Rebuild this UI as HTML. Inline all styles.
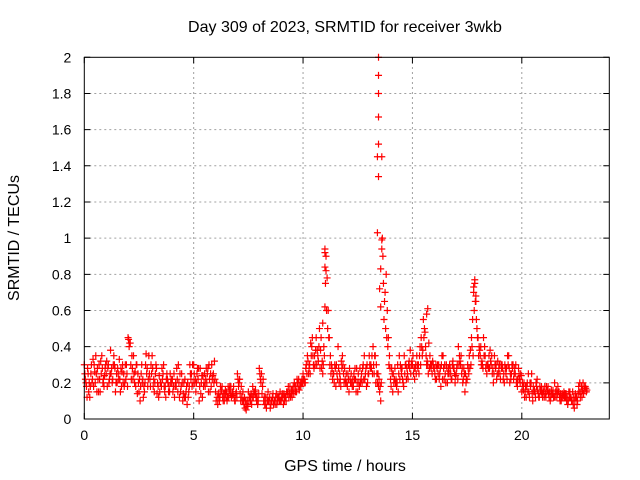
<!DOCTYPE html>
<html><head><meta charset="utf-8"><style>
body{margin:0;background:#fff}
svg{display:block;font-family:"Liberation Sans",sans-serif}
</style></head><body>
<svg id="chart" width="640" height="480">
<text x="345" y="32" text-anchor="middle" font-size="16">Day 309 of 2023, SRMTID for receiver 3wkb</text>
<text x="345" y="471" text-anchor="middle" font-size="16">GPS time / hours</text>
<text transform="translate(19,238) rotate(-90)" text-anchor="middle" font-size="16">SRMTID / TECUs</text>
<g id="grid"></g>
<g id="ticks"></g>
<g id="marks"></g>
<rect x="84.3" y="57.3" width="525" height="361.7" fill="none" stroke="#000" stroke-width="1"/>
</svg>
<script>
const xTicks=[0,5,10,15,20];
const yTicks=[0,0.2,0.4,0.6,0.8,1,1.2,1.4,1.6,1.8,2];
const yTickLabels=["0","0.2","0.4","0.6","0.8","1","1.2","1.4","1.6","1.8","2"];
const vals=[.30,.18,.15,.25,.33,.20,.28,.22,.35,.18,
.25,.30,.38,.22,.28,.20,.33,.18,.25,.22,
.45,.42,.28,.20,.30,.15,.25,.12,.30,.18,
.22,.35,.15,.28,.12,.20,.25,.18,.22,.15,
.20,.25,.18,.30,.15,.10,.22,.08,.18,.25,
.30,.15,.22,.28,.12,.25,.20,.30,.18,.25,
.15,.08,.12,.18,.10,.15,.12,.18,.14,.10,
.25,.22,.12,.08,.05,.15,.10,.18,.14,.12,
.28,.25,.10,.08,.15,.06,.12,.10,.08,.12,
.10,.08,.12,.15,.18,.12,.20,.15,.22,.18,
.25,.20,.35,.30,.40,.28,.45,.32,.38,.25,
.92,.78,.45,.30,.25,.18,.40,.22,.35,.28,
.20,.15,.25,.18,.22,.15,.28,.20,.35,.18,
.25,.30,.40,.35,.20,.15,1.45,.55,.80,.45,
.22,.15,.28,.20,.35,.25,.18,.30,.22,.38,
.30,.22,.35,.25,.45,.55,.40,.30,.35,.25,
.28,.22,.30,.18,.35,.25,.20,.30,.22,.28,
.25,.40,.30,.20,.15,.22,.35,.45,.70,.65,
.45,.35,.30,.40,.25,.35,.30,.20,.28,.32,
.25,.30,.20,.28,.35,.22,.30,.25,.18,.22,
.15,.20,.12,.25,.18,.10,.15,.22,.12,.18,
.15,.12,.18,.10,.14,.20,.12,.15,.10,.13,
.12,.08,.15,.10,.06,.12,.18,.15,.20,.18];
const vals2=[.22,.28,.12,.20,.30,.25,.15,.32,.20,.28,
.18,.22,.28,.35,.20,.25,.15,.30,.20,.25,
.40,.22,.35,.18,.25,.10,.20,.15,.25,.35,
.30,.18,.25,.20,.15,.28,.18,.22,.15,.20,
.15,.18,.22,.12,.25,.20,.15,.12,.25,.30,
.20,.25,.10,.20,.18,.22,.28,.15,.22,.32,
.20,.12,.15,.10,.16,.12,.18,.13,.12,.15,
.18,.10,.15,.06,.10,.12,.08,.15,.12,.10,
.22,.18,.08,.12,.10,.10,.08,.12,.10,.15,
.14,.10,.15,.12,.14,.18,.15,.20,.18,.22,
.20,.30,.25,.42,.35,.30,.38,.50,.28,.40,
.82,.60,.35,.22,.30,.25,.20,.32,.25,.20,
.25,.22,.18,.22,.28,.20,.22,.30,.25,.20,
.30,.35,.25,.30,.18,.10,.90,.70,.60,.35,
.28,.20,.22,.15,.30,.22,.25,.28,.32,.30,
.25,.30,.28,.40,.35,.50,.30,.42,.28,.30,
.22,.30,.25,.35,.22,.30,.28,.25,.32,.20,
.30,.35,.25,.28,.20,.28,.38,.55,.75,.50,
.40,.30,.45,.28,.30,.38,.25,.35,.22,.28,
.30,.22,.28,.35,.20,.30,.25,.20,.28,.25,
.18,.15,.20,.12,.25,.15,.20,.14,.16,.12,
.18,.15,.12,.16,.12,.15,.18,.10,.14,.12,
.10,.15,.12,.08,.14,.10,.20,.12,.16,.15];
const vals3=[.25,.12,.20,.30,.18,.35,.22,.15,.28,.24,
.32,.20,.25,.30,.15,.28,.22,.26,.18,.30,
.44,.30,.22,.26,.14,.22,.30,.18,.36,.22,
.18,.28,.20,.14,.24,.18,.30,.12,.20,.25,
.22,.12,.28,.20,.18,.14,.12,.20,.30,.18,
.25,.20,.28,.14,.24,.18,.25,.22,.30,.20,
.10,.14,.18,.12,.14,.10,.16,.12,.18,.14,
.22,.14,.10,.12,.08,.10,.14,.12,.16,.08,
.25,.14,.12,.06,.10,.08,.14,.08,.12,.10,
.12,.14,.10,.18,.12,.16,.18,.22,.16,.20,
.22,.28,.32,.25,.45,.35,.30,.40,.45,.30,
.75,.50,.30,.28,.20,.30,.28,.18,.30,.22,
.18,.28,.20,.25,.15,.25,.20,.28,.22,.30,
.35,.28,.30,.20,.25,.18,1.0,.65,.45,.30,
.18,.25,.20,.30,.22,.28,.35,.22,.30,.25,
.35,.28,.30,.35,.40,.45,.35,.25,.30,.32,
.25,.28,.22,.30,.28,.20,.25,.28,.30,.25,
.28,.30,.35,.22,.25,.30,.28,.40,.60,.55,
.35,.40,.28,.35,.30,.28,.35,.25,.30,.25,
.22,.28,.30,.22,.28,.25,.22,.30,.22,.20,
.20,.12,.18,.15,.20,.18,.12,.16,.18,.14,
.12,.18,.14,.12,.16,.12,.14,.12,.12,.15,
.14,.10,.12,.15,.10,.08,.15,.18,.14,.17];
const vals4=[.20,.25,.18,.22,.26,.15,.30,.25,.22,.30,
.28,.25,.20,.30,.25,.22,.28,.20,.30,.18,
.42,.35,.25,.30,.20,.18,.22,.20,.28,.25,
.25,.22,.30,.18,.20,.22,.15,.25,.18,.22,
.18,.20,.15,.25,.20,.12,.18,.15,.22,.20,
.22,.28,.18,.24,.20,.28,.15,.25,.24,.22,
.12,.10,.16,.14,.12,.18,.14,.15,.10,.12,
.20,.18,.10,.10,.07,.12,.12,.15,.10,.14,
.20,.22,.12,.10,.12,.10,.10,.14,.12,.10,
.12,.12,.14,.14,.16,.14,.18,.18,.20,.20,
.22,.25,.28,.35,.30,.38,.35,.28,.32,.35,
.60,.45,.25,.25,.28,.22,.25,.28,.20,.25,
.22,.20,.22,.28,.20,.18,.25,.22,.28,.25,
.28,.25,.35,.25,.22,.20,.75,.50,.40,.28,
.25,.22,.18,.25,.28,.20,.30,.25,.28,.32,
.28,.25,.30,.30,.38,.48,.32,.28,.30,.28,
.30,.25,.28,.22,.30,.28,.25,.22,.28,.24,
.22,.32,.28,.25,.22,.25,.30,.35,.65,.45,
.38,.32,.35,.30,.28,.32,.28,.30,.25,.30,
.28,.25,.25,.30,.25,.28,.28,.22,.25,.24,
.16,.18,.15,.20,.14,.16,.18,.12,.15,.16,
.14,.16,.15,.14,.12,.16,.15,.14,.12,.14,
.12,.12,.10,.12,.12,.14,.12,.16,.18,.16];
const spikeT=[13.45,13.45,13.45,13.45,13.45,13.4,13.45,13.4,13.6,13.6,13.55,13.5,13.55,11.0,11.05,11.0,11.0,17.85,17.8,17.9,10.9,15.7,15.65];
const spikeV=[2.0,1.9,1.8,1.67,1.52,1.45,1.34,1.03,0.99,0.94,0.83,0.72,0.62,0.94,0.90,0.84,0.62,0.77,0.73,0.68,0.53,0.61,0.58];
const NS="http://www.w3.org/2000/svg";
const X0=84.3,X1=609.3,Y0=419,Y1=57.3;
const xs=v=>X0+(v/24)*(X1-X0);
const ys=v=>Y0-(v/2)*(Y0-Y1);
function mk(t,a){const e=document.createElementNS(NS,t);for(const k in a)e.setAttribute(k,a[k]);return e;}
const grid=document.getElementById('grid'),ticks=document.getElementById('ticks'),marks=document.getElementById('marks');
xTicks.forEach((t,i)=>{const x=xs(t);
 if(i>0){const l=mk('line',{x1:x,x2:x,y1:Y0,y2:Y1,stroke:'#a0a0a0','stroke-dasharray':'2,3'});grid.appendChild(l);}
 const tk=mk('path',{d:`M${x},${Y0}v-6M${x},${Y1}v6`,stroke:'#000'});ticks.appendChild(tk);
 const tx=mk('text',{x:x,y:Y0+21,'text-anchor':'middle','font-size':14});tx.textContent=t;ticks.appendChild(tx);});
yTicks.forEach((t,i)=>{const y=ys(t);
 if(i>0&&i<yTicks.length-1){const l=mk('line',{x1:X0,x2:X1,y1:y,y2:y,stroke:'#a0a0a0','stroke-dasharray':'2,3'});grid.appendChild(l);}
 const tk=mk('path',{d:`M${X0},${y}h6M${X1},${y}h-6`,stroke:'#000'});ticks.appendChild(tk);
 const tx=mk('text',{x:X0-13,y:y+5,'text-anchor':'end','font-size':14});tx.textContent=yTickLabels[i];ticks.appendChild(tx);});
function plus(t,v){const x=xs(t),y=ys(v);const p=mk('path',{d:`M${x-3.5},${y}h7M${x},${y-3.5}v7`,stroke:'#f00','stroke-width':1.2,fill:'none'});
 
 
 marks.appendChild(p);}
vals.forEach((v,i)=>plus(i*0.1,v));
vals2.forEach((v,i)=>plus(i*0.1+0.05,v));
vals3.forEach((v,i)=>plus(i*0.1+0.025,v));
vals4.forEach((v,i)=>plus(i*0.1+0.075,v));
spikeT.forEach((t,i)=>plus(t,spikeV[i]));
</script>
</body></html>
